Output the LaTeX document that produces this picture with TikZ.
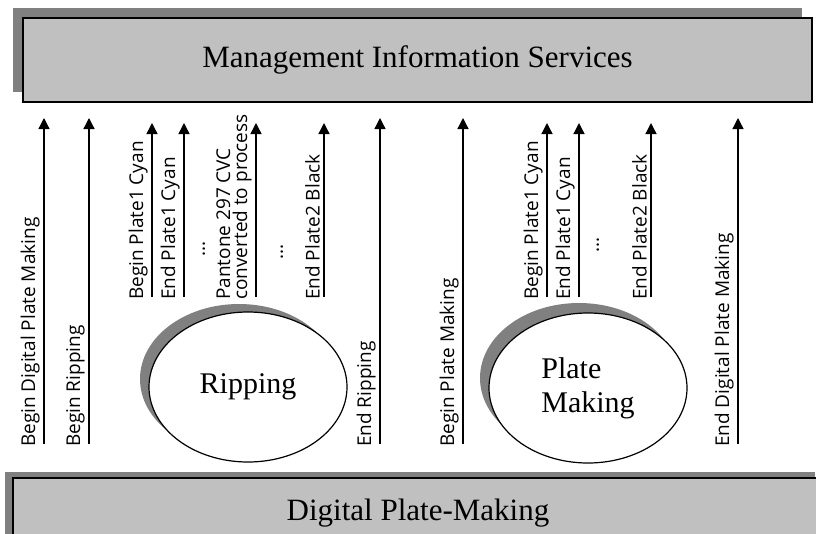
\documentclass[tikz,border=0pt]{standalone}
\usepackage{fontspec}
\setmainfont{Liberation Serif}
\newfontfamily\labelfont{Open Sans}
\usetikzlibrary{arrows.meta,shapes.geometric,shadows}
\definecolor{boxgray}{RGB}{192,192,192}
\definecolor{shadegray}{RGB}{128,128,128}
\begin{document}
\begin{tikzpicture}[x=1pt, y=-1pt,
    event/.style={-{Triangle[width=11pt,length=11pt]}, line width=1.3pt},
    evlabel/.style={xshift=-4pt, yshift=-3pt, rotate=90, anchor=south west, inner sep=0, align=left,
        font=\labelfont\fontsize{19}{17}\selectfont},
    gap/.style={rotate=90, inner sep=0, font=\labelfont\fontsize{19}{17}\selectfont},
    bar/.style={rectangle, draw, line width=1.5pt, fill=boxgray, font=\fontsize{31}{34}\selectfont},
    stage/.style={ellipse, draw, line width=1.2pt, fill=white, minimum width=198pt, minimum height=150pt,
        align=left, font=\fontsize{30}{34}\selectfont}]
    \useasboundingbox (0,0) rectangle (816,533);
    \clip (0,0) rectangle (816,533);

    \node[bar, minimum width=789pt, minimum height=84pt,
        drop shadow={shadow xshift=-10pt, shadow yshift=10pt, fill=shadegray, opacity=1}]
        (mis) at (417.5,60) {Management Information Services};
    \node[bar, minimum width=810pt, minimum height=70pt,
        drop shadow={shadow xshift=-8pt, shadow yshift=6pt, fill=shadegray, opacity=1}]
        (dpm) at (418,513) {Digital Plate-Making};

    \node[stage, drop shadow={shadow xshift=-9pt, shadow yshift=8pt, fill=shadegray, opacity=1}]
        (rip) at (248,387) {Ripping};
    \node[stage, drop shadow={shadow xshift=-9pt, shadow yshift=10pt, fill=shadegray, opacity=1}]
        (plm) at (588,388) {Plate\\Making};

    \coordinate (a1) at (44,444);  \coordinate (a1e) at (44,118);
    \coordinate (a2) at (89,444);  \coordinate (a2e) at (89,118);
    \coordinate (a3) at (152,297); \coordinate (a3e) at (152,123);
    \coordinate (a4) at (184,297); \coordinate (a4e) at (184,123);
    \coordinate (a5) at (256,297); \coordinate (a5e) at (256,123);
    \coordinate (a6) at (324,297); \coordinate (a6e) at (324,123);
    \coordinate (a7) at (380,444); \coordinate (a7e) at (380,118);

    \coordinate (b1) at (463,444); \coordinate (b1e) at (463,118);
    \coordinate (b2) at (547,297); \coordinate (b2e) at (547,123);
    \coordinate (b3) at (579,297); \coordinate (b3e) at (579,123);
    \coordinate (b4) at (651,297); \coordinate (b4e) at (651,123);
    \coordinate (b5) at (738,444); \coordinate (b5e) at (738,118);

    \draw[event] (a1) -- (a1e);
    \draw[event] (a2) -- (a2e);
    \draw[event] (a3) -- (a3e);
    \draw[event] (a4) -- (a4e);
    \draw[event] (a5) -- (a5e);
    \draw[event] (a6) -- (a6e);
    \draw[event] (a7) -- (a7e);
    \draw[event] (b1) -- (b1e);
    \draw[event] (b2) -- (b2e);
    \draw[event] (b3) -- (b3e);
    \draw[event] (b4) -- (b4e);
    \draw[event] (b5) -- (b5e);

    \node[evlabel] (la1) at (a1) {Begin Digital Plate Making};
    \node[evlabel] (la2) at (a2) {Begin Ripping};
    \node[evlabel] (la3) at (a3) {Begin Plate1 Cyan};
    \node[evlabel] (la4) at (a4) {End Plate1 Cyan};
    \node[evlabel] (la5) at (a5) {Pantone 297 CVC\\converted to process};
    \node[evlabel] (la6) at (a6) {End Plate2 Black};
    \node[evlabel] (la7) at (a7) {End Ripping};
    \node[evlabel] (lb1) at (b1) {Begin Plate Making};
    \node[evlabel] (lb2) at (b2) {Begin Plate1 Cyan};
    \node[evlabel] (lb3) at (b3) {End Plate1 Cyan};
    \node[evlabel] (lb4) at (b4) {End Plate2 Black};
    \node[evlabel] (lb5) at (b5) {End Digital Plate Making};

    \node[gap] (g1) at (204,249) {...};
    \node[gap] (g2) at (282,252) {...};
    \node[gap] (g3) at (598,245) {...};
\end{tikzpicture}
\end{document}
